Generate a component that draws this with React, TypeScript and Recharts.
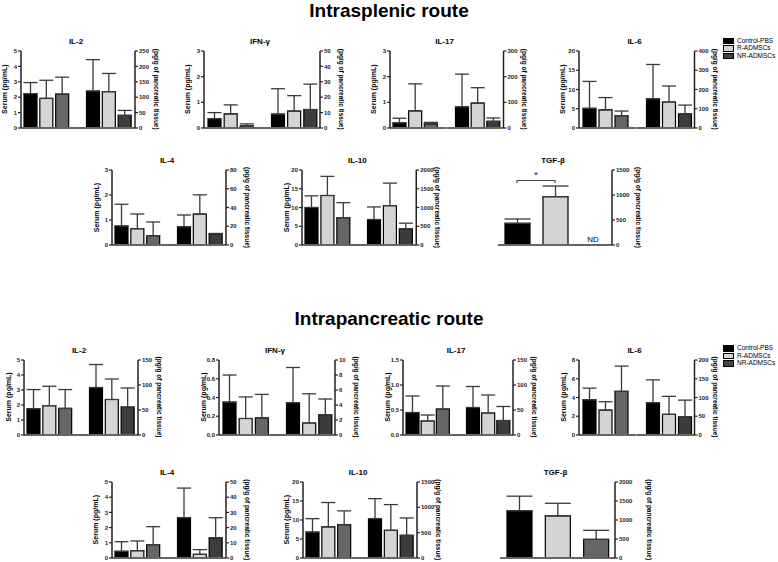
import React from "react";
import { BarChart, Bar, XAxis, YAxis, ErrorBar, Cell } from "recharts";

// ---- data -------------------------------------------------------------

const groups = ["Control-PBS", "R-ADMSCs", "NR-ADMSCs"];

// Intrasplenic route (serum pg/mL, tissue pg/g)
const spIl2Serum = [2.23, 1.92, 2.2];
const spIl2SerumSd = [0.72, 1.18, 1.1];
const spIl2Tissue = [120, 118, 41];
const spIl2TissueSd = [102, 59, 16];

const spIfnSerum = [0.36, 0.55, 0.08];
const spIfnSerumSd = [0.24, 0.35, 0.08];
const spIfnTissue = [9, 11, 12];
const spIfnTissueSd = [16.5, 10, 16.5];

const spIl17Serum = [0.2, 0.67, 0.16];
const spIl17SerumSd = [0.18, 1.05, 0.06];
const spIl17Tissue = [82, 97, 26];
const spIl17TissueSd = [128, 60, 13];

const spIl6Serum = [5.1, 4.7, 3.2];
const spIl6SerumSd = [7.0, 3.2, 1.2];
const spIl6Tissue = [151, 135, 74];
const spIl6TissueSd = [179, 83, 45];

const spIl4Serum = [0.76, 0.65, 0.37];
const spIl4SerumSd = [0.87, 0.59, 0.55];
const spIl4Tissue = [19.5, 33, 11.8];
const spIl4TissueSd = [12.5, 20.5, 0.5];

const spIl10Serum = [10, 13.2, 7.3];
const spIl10SerumSd = [3.1, 5.1, 4];
const spIl10Tissue = [680, 1050, 432];
const spIl10TissueSd = [335, 600, 150];

const spTgfTissue = [434, 966, null];
const spTgfTissueSd = [86, 214, null];

// Intrapancreatic route
const paIl2Serum = [1.75, 1.95, 1.77];
const paIl2SerumSd = [1.28, 1.3, 1.26];
const paIl2Tissue = [95, 71, 56];
const paIl2TissueSd = [46, 41, 38];

const paIfnSerum = [0.35, 0.176, 0.183];
const paIfnSerumSd = [0.29, 0.23, 0.25];
const paIfnTissue = [4.3, 1.6, 2.7];
const paIfnTissueSd = [4.7, 3.9, 2.1];

const paIl17Serum = [0.45, 0.28, 0.52];
const paIl17SerumSd = [0.33, 0.12, 0.46];
const paIl17Tissue = [55, 44, 29];
const paIl17TissueSd = [42, 36, 28];

const paIl6Serum = [3.75, 2.65, 4.65];
const paIl6SerumSd = [1.25, 0.9, 2.7];
const paIl6Tissue = [86, 55, 49];
const paIl6TissueSd = [61, 48, 44];

const paIl4Serum = [0.44, 0.48, 0.88];
const paIl4SerumSd = [0.63, 0.64, 1.18];
const paIl4Tissue = [26.5, 2.4, 13.3];
const paIl4TissueSd = [19.5, 3.1, 13.2];

const paIl10Serum = [6.8, 8.2, 8.8];
const paIl10SerumSd = [3.55, 6.4, 3.6];
const paIl10Tissue = [778, 547, 448];
const paIl10TissueSd = [394, 507, 342];

const paTgfTissue = [1243, 1109, 488];
const paTgfTissueSd = [384, 331, 240];

// tick labels
const ticks0to5 = [0, 1, 2, 3, 4, 5];
const ticks0to3 = [0, 1, 2, 3];
const ticks0to20 = [0, 5, 10, 15, 20];
const ticks0to250 = [0, 50, 100, 150, 200, 250];
const ticks0to50by10 = [0, 10, 20, 30, 40, 50];
const ticks0to300 = [0, 100, 200, 300];
const ticks0to400 = [0, 100, 200, 300, 400];
const ticks0to80 = [0, 20, 40, 60, 80];
const ticks0to2000 = [0, 500, 1000, 1500, 2000];
const ticks0to1500 = [0, 500, 1000, 1500];
const ticks0to150 = [0, 50, 100, 150];
const ticks0to08 = [0, 0.2, 0.4, 0.6, 0.8];
const ticks0to10 = [0, 2, 4, 6, 8, 10];
const ticks0to15 = [0, 0.5, 1, 1.5];
const ticks0to8 = [0, 2, 4, 6, 8];
const ticks0to200 = [0, 50, 100, 150, 200];

// ---- styling ----------------------------------------------------------

const FONT = '"Liberation Sans", Arial, Helvetica, sans-serif';
const SERUM_COLORS = ["#000000", "#d4d4d4", "#666666"];
const TISSUE_COLORS = ["#000000", "#d4d4d4", "#3c3c3c"];
const LEGEND_COLORS = ["#000000", "#d4d4d4", "#444444"];

const rows = (values: (number | null)[], sd: (number | null)[]) =>
  groups.map((g, i) => ({
    group: g,
    value: values[i],
    err: values[i] == null ? null : [0, sd[i] as number],
  }));

function Label({ x, y, text, size, weight = 700, rotate = 0, anchor = "middle" }: any) {
  return (
    <svg
      width={1}
      height={1}
      style={{ position: "absolute", left: 0, top: 0, overflow: "visible", pointerEvents: "none" }}
    >
      <text
        x={x}
        y={y}
        transform={rotate ? `rotate(${rotate} ${x} ${y})` : undefined}
        textAnchor={anchor}
        dominantBaseline="central"
        fontSize={size}
        fontWeight={weight}
        fontFamily={FONT}
        fill="#000"
      >
        {text}
      </text>
    </svg>
  );
}

const AXW = 30;
const PAD = 6;

function BarBlock({ axis, x, y, w, h, values, sd, ticks, dec = 0, colors, padL, padR, barSize, cap }: any) {
  const data = rows(values, sd);
  const chartW = w + AXW;
  const left = axis === "left" ? x - AXW : x;
  return (
    <div style={{ position: "absolute", left, top: y - PAD }}>
      <BarChart
        width={chartW}
        height={h + PAD + 6}
        data={data}
        margin={{ top: PAD, right: 0, bottom: 4, left: 0 }}
      >
        <XAxis
          dataKey="group"
          tick={false}
          tickLine={false}
          height={2}
          padding={{ left: padL, right: padR }}
          axisLine={{ stroke: "#666", strokeWidth: 2 }}
        />
        <YAxis
          orientation={axis}
          width={AXW}
          domain={[0, ticks[ticks.length - 1]]}
          ticks={ticks}
          interval={0}
          tickSize={3}
          tickMargin={1}
          tickFormatter={(v: number) => v.toFixed(dec)}
          axisLine={{ stroke: "#222", strokeWidth: 1.5 }}
          tickLine={{ stroke: "#222", strokeWidth: 1.2 }}
          tick={{ fontSize: 6, fontWeight: 700, fill: "#222", fontFamily: FONT }}
        />
        <Bar dataKey="value" barSize={barSize} stroke="#000" strokeWidth={1.2} isAnimationActive={false}>
          {data.map((d, i) => (
            <Cell key={d.group} fill={colors[i]} />
          ))}
          <ErrorBar dataKey="err" width={cap} stroke="#3a3a3a" strokeWidth={1.3} direction="y" />
        </Bar>
      </BarChart>
    </div>
  );
}

function Panel({ p, top, h }: any) {
  const half = p.w / 2;
  return (
    <>
      {p.serum ? (
        <>
          <BarBlock
            axis="left" x={p.x} y={top} w={half} h={h}
            values={p.serum} sd={p.serumSd} ticks={p.serumTicks} dec={p.serumDec}
            colors={SERUM_COLORS} padL={2} padR={7.5} barSize={13} cap={7}
          />
          <BarBlock
            axis="right" x={p.x + half} y={top} w={half} h={h}
            values={p.tissue} sd={p.tissueSd} ticks={p.tissueTicks}
            colors={TISSUE_COLORS} padL={7.5} padR={2} barSize={13} cap={7}
          />
          <Label x={p.x - 16} y={top + h / 2} text="Serum (pg/mL)" size={7} rotate={-90} />
        </>
      ) : (
        <BarBlock
          axis="right" x={p.x} y={top} w={p.w} h={h}
          values={p.tissue} sd={p.tissueSd} ticks={p.tissueTicks}
          colors={SERUM_COLORS} padL={0} padR={0} barSize={25} cap={13}
        />
      )}
      <Label x={p.x + p.w / 2 - 2} y={top - 9.5} text={p.title} size={8} />
      <Label
        x={p.x + p.w + (p.labelOff ?? 21)}
        y={top + h / 2}
        text="(pg/g of pancreatic tissue)"
        size={6.5}
        rotate={90}
      />
    </>
  );
}

function Legend({ x, y }: any) {
  return (
    <>
      {groups.map((g, i) => (
        <React.Fragment key={g}>
          <div
            style={{
              position: "absolute",
              left: x,
              top: y + i * 7.7 - 2.5,
              width: 8.5,
              height: 4.5,
              background: LEGEND_COLORS[i],
              border: "1px solid #000",
            }}
          />
          <Label x={x + 14} y={y + i * 7.7} text={g} size={6.5} weight={400} anchor="start" />
        </React.Fragment>
      ))}
    </>
  );
}

const splenicTop = [
  { title: "IL-2", x: 21, w: 114, serum: spIl2Serum, serumSd: spIl2SerumSd, serumTicks: ticks0to5, tissue: spIl2Tissue, tissueSd: spIl2TissueSd, tissueTicks: ticks0to250 },
  { title: "IFN-\u03b3", x: 204, w: 116, serum: spIfnSerum, serumSd: spIfnSerumSd, serumTicks: ticks0to3, tissue: spIfnTissue, tissueSd: spIfnTissueSd, tissueTicks: ticks0to50by10 },
  { title: "IL-17", x: 390, w: 113, serum: spIl17Serum, serumSd: spIl17SerumSd, serumTicks: ticks0to3, tissue: spIl17Tissue, tissueSd: spIl17TissueSd, tissueTicks: ticks0to300 },
  { title: "IL-6", x: 579, w: 115, serum: spIl6Serum, serumSd: spIl6SerumSd, serumTicks: ticks0to20, tissue: spIl6Tissue, tissueSd: spIl6TissueSd, tissueTicks: ticks0to400 },
];
const splenicBottom = [
  { title: "IL-4", x: 112, w: 114, serum: spIl4Serum, serumSd: spIl4SerumSd, serumTicks: ticks0to3, tissue: spIl4Tissue, tissueSd: spIl4TissueSd, tissueTicks: ticks0to80 },
  { title: "IL-10", x: 302, w: 114.5, serum: spIl10Serum, serumSd: spIl10SerumSd, serumTicks: ticks0to20, tissue: spIl10Tissue, tissueSd: spIl10TissueSd, tissueTicks: ticks0to2000 },
  { title: "TGF-\u03b2", x: 498, w: 114, tissue: spTgfTissue, tissueSd: spTgfTissueSd, tissueTicks: ticks0to1500, labelOff: 26 },
];
const pancTop = [
  { title: "IL-2", x: 24, w: 114, serum: paIl2Serum, serumSd: paIl2SerumSd, serumTicks: ticks0to5, tissue: paIl2Tissue, tissueSd: paIl2TissueSd, tissueTicks: ticks0to150 },
  { title: "IFN-\u03b3", x: 219, w: 116, serum: paIfnSerum, serumSd: paIfnSerumSd, serumTicks: ticks0to08, serumDec: 1, tissue: paIfnTissue, tissueSd: paIfnTissueSd, tissueTicks: ticks0to10 },
  { title: "IL-17", x: 403, w: 110, serum: paIl17Serum, serumSd: paIl17SerumSd, serumTicks: ticks0to15, serumDec: 1, tissue: paIl17Tissue, tissueSd: paIl17TissueSd, tissueTicks: ticks0to150 },
  { title: "IL-6", x: 579, w: 115, serum: paIl6Serum, serumSd: paIl6SerumSd, serumTicks: ticks0to8, tissue: paIl6Tissue, tissueSd: paIl6TissueSd, tissueTicks: ticks0to200 },
];
const pancBottom = [
  { title: "IL-4", x: 112, w: 114, serum: paIl4Serum, serumSd: paIl4SerumSd, serumTicks: ticks0to5, tissue: paIl4Tissue, tissueSd: paIl4TissueSd, tissueTicks: ticks0to50by10 },
  { title: "IL-10", x: 303, w: 114, serum: paIl10Serum, serumSd: paIl10SerumSd, serumTicks: ticks0to20, tissue: paIl10Tissue, tissueSd: paIl10TissueSd, tissueTicks: ticks0to1500 },
  { title: "TGF-\u03b2", x: 500, w: 115, tissue: paTgfTissue, tissueSd: paTgfTissueSd, tissueTicks: ticks0to2000, labelOff: 34 },
];

export default function App() {
  return (
    <div
      style={{
        position: "absolute",
        left: 0,
        top: 0,
        width: 778,
        height: 562,
        background: "#fff",
        overflow: "hidden",
        fontFamily: FONT,
      }}
    >
      <Label x={389} y={10} text="Intrasplenic route" size={19} />
      <Label x={389} y={318} text="Intrapancreatic route" size={19} />

      {splenicTop.map((p) => <Panel key={"st" + p.title} p={p} top={50.7} h={77} />)}
      {splenicBottom.map((p) => <Panel key={"sb" + p.title} p={p} top={170} h={75} />)}
      {pancTop.map((p) => <Panel key={"pt" + p.title} p={p} top={359.5} h={75} />)}
      {pancBottom.map((p) => <Panel key={"pb" + p.title} p={p} top={481.7} h={76} />)}

      <Legend x={723} y={40} />
      <Legend x={723} y={347.5} />

      {/* significance bracket and ND marker on the intrasplenic TGF-β panel */}
      <svg style={{ position: "absolute", left: 0, top: 0 }} width={778} height={562}>
        <path d="M517 183 V180.5 H555 V183" fill="none" stroke="#444" strokeWidth={1.2} />
      </svg>
      <Label x={536} y={175} text="*" size={9} weight={400} />
      <Label x={593} y={239} text="ND" size={8} weight={400} />
    </div>
  );
}
